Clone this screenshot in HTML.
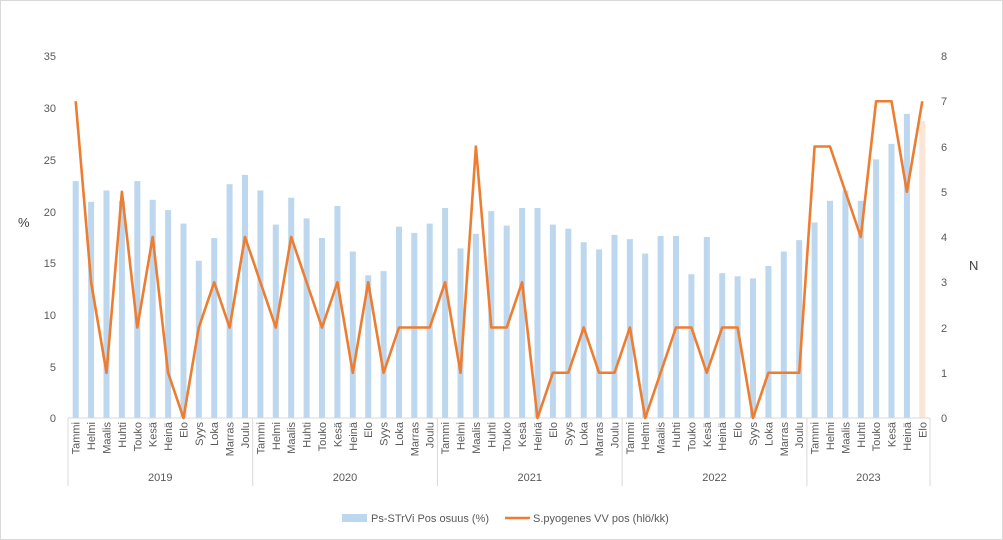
<!DOCTYPE html>
<html><head><meta charset="utf-8"><style>
body{margin:0;background:#fff}
svg{display:block;font-family:"Liberation Sans",sans-serif}
</style></head><body>
<svg width="1003" height="540" viewBox="0 0 1003 540">
<rect x="0.5" y="0.5" width="1002" height="539" fill="#fff" stroke="#d9d9d9"/>
<g font-size="11" fill="#595959" text-anchor="end">
<text x="56" y="60">35</text><text x="56" y="112">30</text><text x="56" y="164">25</text><text x="56" y="216">20</text><text x="56" y="267">15</text><text x="56" y="319">10</text><text x="56" y="371">5</text><text x="56" y="422">0</text>
</g>
<g font-size="11" fill="#595959">
<text x="941" y="60">8</text><text x="941" y="105">7</text><text x="941" y="151">6</text><text x="941" y="196">5</text><text x="941" y="241">4</text><text x="941" y="286">3</text><text x="941" y="332">2</text><text x="941" y="377">1</text><text x="941" y="422">0</text>
</g>
<text x="18" y="227" font-size="13" fill="#404040">%</text>
<text x="969" y="270" font-size="13" fill="#404040">N</text>
<g fill="#bdd7ee">
<rect x="72.7" y="181.1" width="6" height="236.9"/><rect x="88.1" y="201.8" width="6" height="216.2"/><rect x="103.5" y="190.5" width="6" height="227.5"/><rect x="118.9" y="200.8" width="6" height="217.2"/><rect x="134.3" y="181.1" width="6" height="236.9"/><rect x="149.7" y="199.8" width="6" height="218.2"/><rect x="165.1" y="210.1" width="6" height="207.9"/><rect x="180.5" y="223.6" width="6" height="194.4"/><rect x="195.8" y="260.8" width="6" height="157.2"/><rect x="211.2" y="238" width="6" height="180"/><rect x="226.6" y="184.2" width="6" height="233.8"/><rect x="242" y="174.9" width="6" height="243.1"/>
<rect x="257.4" y="190.5" width="6" height="227.5"/><rect x="272.8" y="224.6" width="6" height="193.4"/><rect x="288.2" y="197.7" width="6" height="220.3"/><rect x="303.6" y="218.4" width="6" height="199.6"/><rect x="319" y="238" width="6" height="180"/><rect x="334.4" y="206" width="6" height="212"/><rect x="349.8" y="251.5" width="6" height="166.5"/><rect x="365.2" y="275.3" width="6" height="142.7"/><rect x="380.6" y="271.1" width="6" height="146.9"/><rect x="396" y="226.7" width="6" height="191.3"/><rect x="411.3" y="232.9" width="6" height="185.1"/><rect x="426.7" y="223.6" width="6" height="194.4"/>
<rect x="442.1" y="208" width="6" height="210"/><rect x="457.5" y="248.4" width="6" height="169.6"/><rect x="472.9" y="233.9" width="6" height="184.1"/><rect x="488.3" y="211.1" width="6" height="206.9"/><rect x="503.7" y="225.6" width="6" height="192.4"/><rect x="519.1" y="208" width="6" height="210"/><rect x="534.5" y="208" width="6" height="210"/><rect x="549.9" y="224.6" width="6" height="193.4"/><rect x="565.3" y="228.7" width="6" height="189.3"/><rect x="580.7" y="242.2" width="6" height="175.8"/><rect x="596.1" y="249.4" width="6" height="168.6"/><rect x="611.5" y="234.9" width="6" height="183.1"/>
<rect x="626.9" y="239.1" width="6" height="178.9"/><rect x="642.2" y="253.5" width="6" height="164.5"/><rect x="657.6" y="236" width="6" height="182"/><rect x="673" y="236" width="6" height="182"/><rect x="688.4" y="274.2" width="6" height="143.8"/><rect x="703.8" y="237" width="6" height="181"/><rect x="719.2" y="273.2" width="6" height="144.8"/><rect x="734.6" y="276.3" width="6" height="141.7"/><rect x="750" y="278.4" width="6" height="139.6"/><rect x="765.4" y="266" width="6" height="152"/><rect x="780.8" y="251.5" width="6" height="166.5"/><rect x="796.2" y="240.1" width="6" height="177.9"/>
<rect x="811.6" y="222.5" width="6" height="195.5"/><rect x="827" y="200.8" width="6" height="217.2"/><rect x="842.4" y="190.5" width="6" height="227.5"/><rect x="857.8" y="200.8" width="6" height="217.2"/><rect x="873.1" y="159.4" width="6" height="258.6"/><rect x="888.5" y="143.9" width="6" height="274.1"/><rect x="903.9" y="113.9" width="6" height="304.1"/>
<rect x="919.3" y="121.2" width="6" height="296.8" fill="#fbe5d6"/>
</g>
<line x1="68" y1="418" x2="930" y2="418" stroke="#d9d9d9"/>
<polyline fill="none" stroke="#ed7d31" stroke-width="2.6" stroke-linejoin="round" points="75.7,101.25 91.1,282.25 106.5,372.75 121.9,191.75 137.3,327.5 152.7,237 168.1,372.75 183.5,418 198.8,327.5 214.2,282.25 229.6,327.5 245,237 260.4,282.25 275.8,327.5 291.2,237 306.6,282.25 322,327.5 337.4,282.25 352.8,372.75 368.2,282.25 383.6,372.75 399,327.5 414.3,327.5 429.7,327.5 445.1,282.25 460.5,372.75 475.9,146.5 491.3,327.5 506.7,327.5 522.1,282.25 537.5,418 552.9,372.75 568.3,372.75 583.7,327.5 599.1,372.75 614.5,372.75 629.9,327.5 645.2,418 660.6,372.75 676,327.5 691.4,327.5 706.8,372.75 722.2,327.5 737.6,327.5 753,418 768.4,372.75 783.8,372.75 799.2,372.75 814.6,146.5 830,146.5 845.4,191.75 860.8,237 876.1,101.25 891.5,101.25 906.9,191.75 922.3,101.25"/>
<g stroke="#d9d9d9"><line x1="68" y1="418" x2="68" y2="486"/><line x1="252.7" y1="418" x2="252.7" y2="486"/><line x1="437.4" y1="418" x2="437.4" y2="486"/><line x1="622.1" y1="418" x2="622.1" y2="486"/><line x1="806.9" y1="418" x2="806.9" y2="486"/><line x1="930" y1="418" x2="930" y2="486"/></g>
<g font-size="11" fill="#595959" text-anchor="end">
<text transform="translate(79.7,422) rotate(-90)">Tammi</text><text transform="translate(95.1,422) rotate(-90)">Helmi</text><text transform="translate(110.5,422) rotate(-90)">Maalis</text><text transform="translate(125.9,422) rotate(-90)">Huhti</text><text transform="translate(141.3,422) rotate(-90)">Touko</text><text transform="translate(156.7,422) rotate(-90)">Kesä</text><text transform="translate(172.1,422) rotate(-90)">Heinä</text><text transform="translate(187.5,422) rotate(-90)">Elo</text><text transform="translate(202.8,422) rotate(-90)">Syys</text><text transform="translate(218.2,422) rotate(-90)">Loka</text><text transform="translate(233.6,422) rotate(-90)">Marras</text><text transform="translate(249,422) rotate(-90)">Joulu</text>
<text transform="translate(264.4,422) rotate(-90)">Tammi</text><text transform="translate(279.8,422) rotate(-90)">Helmi</text><text transform="translate(295.2,422) rotate(-90)">Maalis</text><text transform="translate(310.6,422) rotate(-90)">Huhti</text><text transform="translate(326,422) rotate(-90)">Touko</text><text transform="translate(341.4,422) rotate(-90)">Kesä</text><text transform="translate(356.8,422) rotate(-90)">Heinä</text><text transform="translate(372.2,422) rotate(-90)">Elo</text><text transform="translate(387.6,422) rotate(-90)">Syys</text><text transform="translate(403,422) rotate(-90)">Loka</text><text transform="translate(418.3,422) rotate(-90)">Marras</text><text transform="translate(433.7,422) rotate(-90)">Joulu</text>
<text transform="translate(449.1,422) rotate(-90)">Tammi</text><text transform="translate(464.5,422) rotate(-90)">Helmi</text><text transform="translate(479.9,422) rotate(-90)">Maalis</text><text transform="translate(495.3,422) rotate(-90)">Huhti</text><text transform="translate(510.7,422) rotate(-90)">Touko</text><text transform="translate(526.1,422) rotate(-90)">Kesä</text><text transform="translate(541.5,422) rotate(-90)">Heinä</text><text transform="translate(556.9,422) rotate(-90)">Elo</text><text transform="translate(572.3,422) rotate(-90)">Syys</text><text transform="translate(587.7,422) rotate(-90)">Loka</text><text transform="translate(603.1,422) rotate(-90)">Marras</text><text transform="translate(618.5,422) rotate(-90)">Joulu</text>
<text transform="translate(633.9,422) rotate(-90)">Tammi</text><text transform="translate(649.2,422) rotate(-90)">Helmi</text><text transform="translate(664.6,422) rotate(-90)">Maalis</text><text transform="translate(680,422) rotate(-90)">Huhti</text><text transform="translate(695.4,422) rotate(-90)">Touko</text><text transform="translate(710.8,422) rotate(-90)">Kesä</text><text transform="translate(726.2,422) rotate(-90)">Heinä</text><text transform="translate(741.6,422) rotate(-90)">Elo</text><text transform="translate(757,422) rotate(-90)">Syys</text><text transform="translate(772.4,422) rotate(-90)">Loka</text><text transform="translate(787.8,422) rotate(-90)">Marras</text><text transform="translate(803.2,422) rotate(-90)">Joulu</text>
<text transform="translate(818.6,422) rotate(-90)">Tammi</text><text transform="translate(834,422) rotate(-90)">Helmi</text><text transform="translate(849.4,422) rotate(-90)">Maalis</text><text transform="translate(864.8,422) rotate(-90)">Huhti</text><text transform="translate(880.1,422) rotate(-90)">Touko</text><text transform="translate(895.5,422) rotate(-90)">Kesä</text><text transform="translate(910.9,422) rotate(-90)">Heinä</text><text transform="translate(926.3,422) rotate(-90)">Elo</text>
</g>
<g font-size="11" fill="#595959" text-anchor="middle">
<text x="160.3" y="481">2019</text><text x="345" y="481">2020</text><text x="529.8" y="481">2021</text><text x="714.5" y="481">2022</text><text x="868.4" y="481">2023</text>
</g>
<rect x="342" y="514" width="25" height="8" fill="#bdd7ee"/>
<text x="371" y="522" font-size="11" fill="#595959">Ps-STrVi Pos osuus (%)</text>
<line x1="505" y1="518" x2="530" y2="518" stroke="#ed7d31" stroke-width="2.6"/>
<text x="533" y="522" font-size="11" fill="#595959">S.pyogenes VV pos (hlö/kk)</text>
</svg>
</body></html>
